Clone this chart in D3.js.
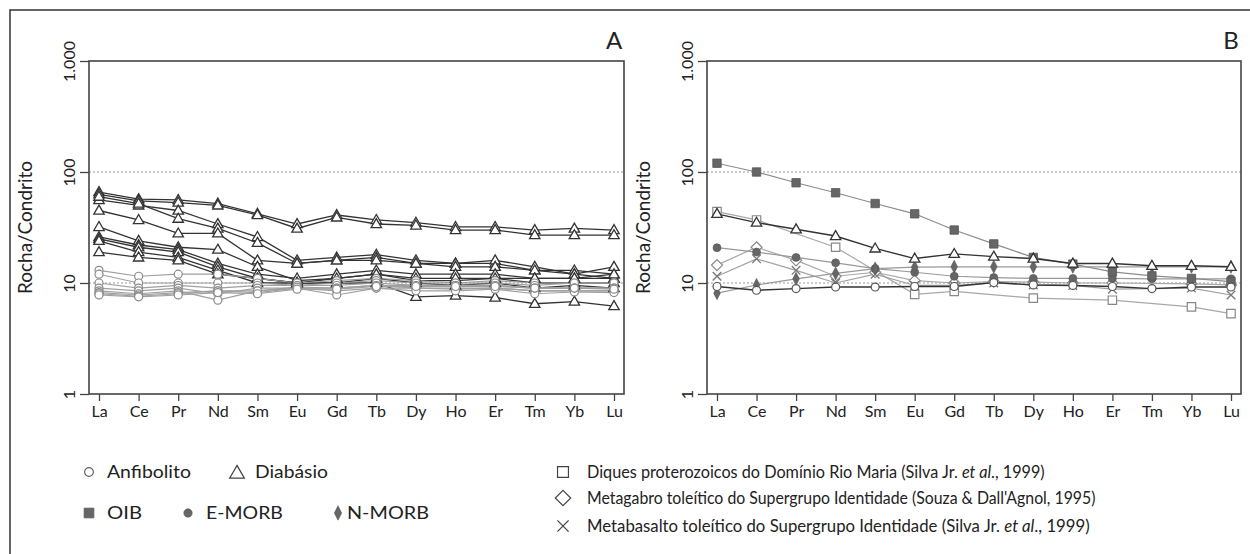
<!DOCTYPE html>
<html><head><meta charset="utf-8">
<script src="https://cdn.jsdelivr.net/npm/d3@7"></script>
<style>
body{margin:0;background:#fff}
svg{display:block}
text{font-family:Lato,"Open Sans",sans-serif;fill:#222}
</style>
</head><body>
<svg id="c" width="1250" height="554"></svg>
<script>
// ---------- DATA ----------
const elements = ["La","Ce","Pr","Nd","Sm","Eu","Gd","Tb","Dy","Ho","Er","Tm","Yb","Lu"];
const yTicks = [1, 10, 100, 1000];
const yTickLabels = ["1", "10", "100", "1.000"];
const yTitle = "Rocha/Condrito";

// Panel A – Diabásio samples (open triangles)
const diabasio1 = [66, 57, 56, 52, 42, 34, 41, 37, 35, 32, 32, 30, 31, 30];
const diabasio2 = [63, 55, 53, 50, 41, 31, 39, 34, 33, 30, 30, 27, 27, 27];
const diabasio3 = [56, 50, 45, 34, 26, 16, 17, 18, 16, 15, 15, 13, 13, 12];
const diabasio4 = [60, 52, 38, 31, 23, 15, 16, 17, 15, 15, 16, 14, 12, 14];
const diabasio5 = [45, 37, 28, 28, 16, 15, 16, 16, 15, 14, 14, 13, 12, 11];
const diabasio6 = [32, 24, 21, 20, 14, 10.5, 11, 12, 10.5, 10.5, 11, 10, 10, 10];
const diabasio7 = [26, 22, 20, 15, 12, 11, 12, 13, 12, 12, 12, 11, 11, 11];
const diabasio8 = [25, 21, 19, 14, 11, 10, 10, 11, 10, 9.5, 10, 9, 9.5, 9];
const diabasio9 = [24, 19, 17, 13, 10, 10, 10, 10, 7.5, 7.7, 7.4, 6.5, 6.8, 6.2];
const diabasio10 = [19, 17, 16, 12, 11, 10, 11, 12, 11, 11, 11, 11, 11, 12];

// Panel A – Anfibolito samples (open circles)
const anfibolito1 = [13, 11.5, 12, 12, 11, 10, 10.5, 11, 10.5, 10, 10.5, 10, 10, 10];
const anfibolito2 = [12, 10, 10, 10, 10, 9.5, 10, 10.5, 10, 10, 10, 9.5, 10, 10];
const anfibolito3 = [10, 9, 9.5, 9, 9.5, 9.5, 9.5, 10, 9.5, 9.5, 9.5, 9, 9, 9];
const anfibolito4 = [9, 8.5, 9, 8, 9, 9, 9, 9.5, 9, 9, 9, 8.5, 8.5, 8.5];
const anfibolito5 = [8.5, 8, 8.5, 7, 8.5, 9, 8.5, 9, 9, 8.8, 9, 8.5, 8.5, 8.5];
const anfibolito6 = [8.2, 7.8, 8.2, 8.5, 8.2, 9, 7.8, 9, 8.5, 8.5, 8.8, 8, 8.3, 8.2];
const anfibolito7 = [8, 7.6, 8, 8.5, 8.5, 9.2, 9, 9.5, 9.5, 9.5, 9.5, 9, 9, 9];
const anfibolito8 = [7.8, 7.5, 7.8, 8.2, 8, 8.8, 8.8, 9.3, 9.3, 9.3, 9.3, 9, 9, 8.8];

// Panel B
const oib = [120, 100, 80, 65, 52, 42, 30, 22.5, 17, 14.8, 12.6, 11.6, 11.0, 10.3];
const emorb = [20.8, 19, 17, 15.2, 13.5, 12.5, 11.5, 11.2, 11.0, 11.0, 11.0, 10.9, 10.9, 10.9];
const nmorb = [8.1, 9.6, 10.9, 12.2, 13.5, 13.9, 14.0, 14.0, 14.0, 14.0, 14.0, 14.0, 14.0, 14.0];
const diabasioMean = [42, 35, 30.5, 26.5, 20.5, 16.6, 18.3, 17.3, 16.6, 15.0, 15.0, 14.3, 14.3, 14.0];
const anfibolitoMean = [9.3, 8.6, 8.9, 9.2, 9.2, 9.3, 9.3, 10.1, 9.6, 9.5, 9.3, 8.9, 9.2, 9.2];
const diques = [44, 37, null, 21, null, 7.9, 8.4, null, 7.3, null, 7.0, null, 6.1, 5.3];
const metagabro = [14.5, 21, 16, 11.5, 12.5, 10.5, 10, 10.3, 10.2, 10, 10, null, 9.8, 9.6];
const metabasalto = [11.5, 16.5, 13, 10, 12, 9.5, 9.5, 10, 9.6, 9.5, 8.8, null, 9.0, 7.8];

const legendLeft1 = ["Anfibolito", "Diabásio"];
const legendLeft2 = ["OIB", "E-MORB", "N-MORB"];
const legendRight = [
  ["Diques proterozoicos do Domínio Rio Maria (Silva Jr. ", "et al", "., 1999)"],
  ["Metagabro toleítico do Supergrupo Identidade (Souza & Dall'Agnol, 1995)", "", ""],
  ["Metabasalto toleítico do Supergrupo Identidade  (Silva Jr. ", "et al", "., 1999)"]
];

// ---------- DRAW ----------
const svg = d3.select("#c");

svg.append("rect").attr("x",10).attr("y",10).attr("width",1260).attr("height",600)
  .attr("fill","none").attr("stroke","#333").attr("stroke-width",1.5);

const panels = {
  A: {left: 89, right: 624, label: "A"},
  B: {left: 707, right: 1241, label: "B"}
};
const plotTop = 61, plotBottom = 394;

function mk(g, type, cx, cy, s){
  s = s || 1;
  const p = g.append("path").attr("transform",`translate(${cx},${cy})`);
  let d;
  switch(type){
    case "circleOpen": case "circleFill":
      d = d3.symbol(d3.symbolCircle, 50*s*s)(); break;
    case "triangle":
      { const w=5.2*s, h=9*s; d=`M0,${-h*0.6}L${w},${h*0.4}L${-w},${h*0.4}Z`; } break;
    case "squareFill": case "squareOpen":
      { const a=4.2*s; d=`M${-a},${-a}H${a}V${a}H${-a}Z`; } break;
    case "diamondOpen":
      { const a=5.5*s; d=`M0,${-a}L${a},0L0,${a}L${-a},0Z`; } break;
    case "diamondFill":
      { const w=3.3*s, h=6.5*s; d=`M0,${-h}L${w},0L0,${h}L${-w},0Z`; } break;
    case "cross":
      { const a=4.3*s; d=`M${-a},${-a}L${a},${a}M${a},${-a}L${-a},${a}`; } break;
  }
  p.attr("d", d);
  return p;
}
const styles = {
  circleOpen: {fill:"#fff", stroke:"#8a8a8a", sw:1.2},
  triangle: {fill:"#fff", stroke:"#333", sw:1.3},
  squareFill: {fill:"#666", stroke:"#555", sw:0.8},
  squareOpen: {fill:"#fff", stroke:"#888", sw:1.2},
  diamondOpen: {fill:"#fff", stroke:"#888", sw:1.2},
  diamondFill: {fill:"#666", stroke:"#555", sw:0.6},
  circleFill: {fill:"#666", stroke:"#555", sw:0.6},
  cross: {fill:"none", stroke:"#777", sw:1.3}
};
function styled(p, type, strokeOverride){
  const st = styles[type];
  p.attr("fill", st.fill).attr("stroke", strokeOverride || st.stroke).attr("stroke-width", st.sw);
  return p;
}

function drawPanel(key, seriesList){
  const P = panels[key];
  const x = d3.scalePoint().domain(elements).range([P.left+10, P.right-10]);
  const y = d3.scaleLog().domain([1,1000]).range([plotBottom, plotTop]);
  const g = svg.append("g");

  [10,100].forEach(v=>{
    g.append("line").attr("x1",P.left).attr("x2",P.right).attr("y1",y(v)).attr("y2",y(v))
      .attr("stroke","#999").attr("stroke-width",1.2).attr("stroke-dasharray","2,2");
  });

  const ya = g.append("g").attr("transform",`translate(${P.left},0)`)
    .call(d3.axisLeft(y).tickValues(yTicks).tickSize(9)
      .tickFormat(d=>yTickLabels[yTicks.indexOf(d)]));
  ya.select(".domain").remove();
  ya.selectAll(".tick line").attr("stroke","#444").attr("stroke-width",1.3);
  ya.selectAll(".tick text").attr("transform","rotate(-90)").attr("x",0).attr("y",-14)
    .attr("dy",0).attr("text-anchor","middle").style("font-size","16px").attr("fill","#222");

  const xa = g.append("g").attr("transform",`translate(0,${plotBottom})`)
    .call(d3.axisBottom(x).tickSize(7).tickPadding(5));
  xa.select(".domain").remove();
  xa.selectAll(".tick line").attr("stroke","#444").attr("stroke-width",1.3);
  xa.selectAll(".tick text").style("font-size","16px").attr("fill","#222").attr("y",12);

  g.append("rect").attr("x",P.left).attr("y",plotTop).attr("width",P.right-P.left).attr("height",plotBottom-plotTop)
    .attr("fill","none").attr("stroke","#444").attr("stroke-width",1.6);

  g.append("text").attr("transform",`translate(${P.left-57},${(plotTop+plotBottom)/2}) rotate(-90)`)
    .attr("text-anchor","middle").style("font-size","19px").text(yTitle);

  g.append("text").attr("x",P.right-10).attr("y",49).attr("text-anchor","middle")
    .style("font-size","24px").text(P.label);

  const line = d3.line().x(d=>x(d.el)).y(d=>y(d.v));
  seriesList.forEach(s=>{
    const pts = s.values.map((v,i)=>({el:elements[i], v})).filter(d=>d.v!=null);
    g.append("path").attr("d", line(pts)).attr("fill","none")
      .attr("stroke", s.lineColor).attr("stroke-width", s.lw || 1.2);
  });
  seriesList.forEach(s=>{
    const pts = s.values.map((v,i)=>({el:elements[i], v})).filter(d=>d.v!=null);
    pts.forEach(d=> styled(mk(g, s.marker, x(d.el), y(d.v)), s.marker, s.markerStroke));
  });
}

const seriesA = [
  ...[diabasio1,diabasio2,diabasio3,diabasio4,diabasio5,diabasio6,diabasio7,diabasio8,diabasio9,diabasio10]
    .map(v=>({values:v, marker:"triangle", lineColor:"#333", lw:1.3})),
  ...[anfibolito1,anfibolito2,anfibolito3,anfibolito4,anfibolito5,anfibolito6,anfibolito7,anfibolito8]
    .map(v=>({values:v, marker:"circleOpen", lineColor:"#a0a0a0", lw:1.2}))
];
drawPanel("A", seriesA);

const seriesB = [
  {values:diques, marker:"squareOpen", lineColor:"#a8a8a8"},
  {values:metagabro, marker:"diamondOpen", lineColor:"#a8a8a8"},
  {values:metabasalto, marker:"cross", lineColor:"#a0a0a0"},
  {values:emorb, marker:"circleFill", lineColor:"#999"},
  {values:nmorb, marker:"diamondFill", lineColor:"#999"},
  {values:oib, marker:"squareFill", lineColor:"#8c8c8c"},
  {values:anfibolitoMean, marker:"circleOpen", lineColor:"#333", markerStroke:"#555", lw:1.4},
  {values:diabasioMean, marker:"triangle", lineColor:"#333", lw:1.4}
];
drawPanel("B", seriesB);

// ---------- LEGENDS ----------
const lg = svg.append("g");
// text squeezed horizontally to a target width (keeps glyph height like the reference)
function ltext(x, y, parts, targetW){
  const t = lg.append("text").style("font-size","18px");
  parts.forEach((p,i)=>{ if(p) t.append("tspan").style("font-style", i===1?"italic":"normal").text(p); });
  const w = t.node().getComputedTextLength();
  const k = targetW ? targetW / w : 1;
  t.attr("transform",`translate(${x},${y}) scale(${k},1)`);
  return t;
}
styled(mk(lg,"circleOpen",89,472,1.1),"circleOpen","#666");
ltext(107,478,[legendLeft1[0]],84);
styled(mk(lg,"triangle",237,473,1.4),"triangle","#444");
ltext(255,478,[legendLeft1[1]],73);
styled(mk(lg,"squareFill",89,513,1.15),"squareFill");
ltext(107,519,[legendLeft2[0]],35);
styled(mk(lg,"circleFill",188,513,1.05),"circleFill");
ltext(206,519,[legendLeft2[1]],77);
styled(mk(lg,"diamondFill",338,513,1.1),"diamondFill");
ltext(347,519,[legendLeft2[2]],82);

const rl = [[472,"squareOpen",458],[498,"diamondOpen",509],[526,"cross",503]];
rl.forEach((r,i)=>{
  styled(mk(lg,r[1],563,r[0], r[1]==="diamondOpen"?1.4:1.3), r[1], "#444");
  ltext(587, r[0]+6, legendRight[i], r[2]);
});
</script>
</body></html>
